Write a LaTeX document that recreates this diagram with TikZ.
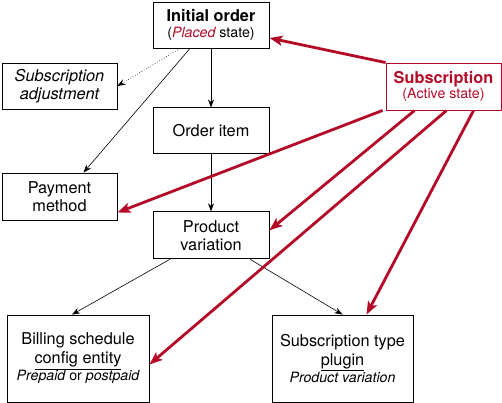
\documentclass[tikz,border=0pt]{standalone}
\usepackage{fontspec}
\setmainfont{TeX Gyre Heros}
\usepackage{tikz}
\usetikzlibrary{positioning,arrows.meta}
\definecolor{subred}{RGB}{180,10,40}
\newcommand{\smalltxt}[1]{{\fontsize{14.2}{16}\selectfont #1}}

\begin{document}
\begin{tikzpicture}[x=1pt, y=-1pt,
  box/.style={draw, line width=0.9pt, align=center, inner sep=0pt,
              font=\fontsize{16.3}{18}\selectfont},
  arr/.style={-{Stealth[length=8pt,width=6pt]}, line width=0.6pt},
  redarr/.style={-{Stealth[length=13pt,width=10pt,inset=3pt]},
                 line width=2.8pt, subred},
  node distance=58pt
]
\useasboundingbox (0,0) rectangle (502,403);
\node[box, minimum width=116pt, minimum height=46pt] (init) at (211,25)
  {\textbf{Initial order}\\[-2pt]
   \smalltxt{(\textcolor{subred}{\itshape Placed} state)}};
\node[box, minimum width=116pt, minimum height=46pt, below=59pt of init] (item)
  {Order item};
\node[box, minimum width=116pt, minimum height=47pt, below=57pt of item] (variation)
  {Product\\variation};
\node[box, minimum width=115pt, minimum height=46pt] (adjust) at (59.5,86)
  {\itshape Subscription\\\itshape adjustment};
\node[box, minimum width=115pt, minimum height=47pt] (payment) at (59.5,196.5)
  {Payment\\method};
\node[box, draw=subred, text=subred, minimum width=115pt,
      minimum height=47pt] (sub) at (443.5,86.5)
  {\textbf{Subscription}\\[-3pt]\smalltxt{(Active state)}};
\node[box, minimum width=142pt, minimum height=87pt] (billing) at (78,358.5)
  {Billing schedule\\[1pt]\underline{config entity}\\[-1pt]
   \smalltxt{\itshape Prepaid \upshape or \itshape postpaid}};
\node[box, minimum width=141pt, minimum height=87pt] (subtype) at (342.5,358.5)
  {Subscription type\\[1pt]\underline{plugin}\\[-1pt]
   \smalltxt{\itshape Product variation}};
% order side
\draw[arr] (init) -- (item);
\draw[arr] (item) -- (variation);
\draw[arr, dotted] ([xshift=-31pt]init.south) -- (adjust.east);
\draw[arr] ([xshift=-21pt]init.south) -- ([xshift=24pt]payment.north);
\draw[arr] ([xshift=-41pt]variation.south) -- ([xshift=-6pt]billing.north);
\draw[arr] ([xshift=39pt]variation.south) -- (subtype.north);
% subscription references
\draw[redarr] (sub.north west) -- ([yshift=-13pt]init.east);
\draw[redarr] ([xshift=-3pt]sub.south west) -- ([yshift=-16pt]payment.east);
\draw[redarr] ([xshift=29pt]sub.south west) -- ([yshift=5pt]variation.east);
\draw[redarr] ([xshift=61pt]sub.south west) -- ([yshift=-6pt]billing.east);
\draw[redarr] ([xshift=88pt]sub.south west) -- ([xshift=24pt]subtype.north);
\end{tikzpicture}
\end{document}
